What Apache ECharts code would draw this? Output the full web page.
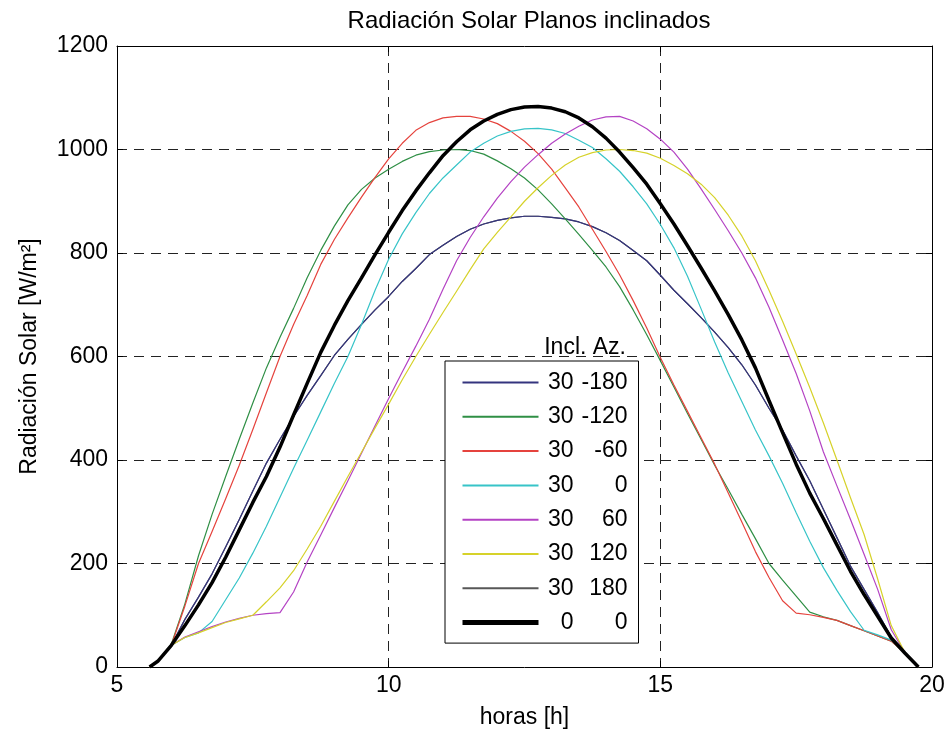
<!DOCTYPE html>
<html>
<head>
<meta charset="utf-8">
<script src="https://cdn.jsdelivr.net/npm/echarts@6/dist/echarts.min.js"></script>
<style>
  html, body { margin: 0; padding: 0; background: #fff; }
  #chart { width: 948px; height: 734px; }
</style>
</head>
<body>
<div id="chart"></div>
<script>
// hora del dia
const hours = [5.6, 5.75, 6, 6.25, 6.5, 6.75, 7, 7.25, 7.5, 7.75, 8, 8.25, 8.5, 8.75,
  9, 9.25, 9.5, 9.75, 10, 10.25, 10.5, 10.75, 11, 11.25, 11.5, 11.75, 12, 12.25, 12.5, 12.75,
  13, 13.25, 13.5, 13.75, 14, 14.25, 14.5, 14.75, 15, 15.25, 15.5, 15.75, 16, 16.25, 16.5, 16.75,
  17, 17.25, 17.5, 17.75, 18, 18.25, 18.5, 18.75, 19, 19.25, 19.5, 19.75];

// W/m2, inclinacion 30, azimut -180
const s30m180 = [0, 11, 42, 92, 135, 180, 232, 285, 340, 394, 440, 484, 525, 563,
  602, 633, 662, 690, 716, 745, 770, 797, 815, 832, 846, 856, 863, 868, 871, 871,
  869, 866, 860, 851, 839, 824, 805, 785, 757, 728, 702, 675, 647, 617, 584, 545,
  500, 458, 408, 360, 305, 250, 195, 150, 105, 58, 27, 0];
// azimut -120
const s30m120 = [0, 11, 44, 122, 215, 295, 368, 440, 510, 578, 637, 693, 752, 805,
  852, 893, 923, 945, 962, 977, 989, 996, 999, 1000, 998, 991, 978, 963, 945, 922,
  895, 866, 836, 805, 773, 735, 690, 642, 592, 541, 490, 440, 390, 343, 295, 248,
  200, 168, 137, 106, 97, 90, 80, 70, 60, 50, 27, 0];
// azimut -60
const s30m60 = [0, 11, 42, 118, 200, 262, 325, 390, 459, 530, 600, 662, 718, 778,
  826, 868, 908, 946, 982, 1012, 1037, 1052, 1061, 1064, 1064, 1059, 1050, 1035, 1016, 992,
  962, 926, 889, 846, 803, 758, 708, 655, 598, 545, 494, 443, 392, 336, 280, 223,
  173, 128, 104, 101, 96, 90, 80, 70, 60, 50, 27, 0];
// azimut 0
const s30_0 = [0, 11, 42, 57, 66, 88, 130, 172, 220, 272, 328, 384, 438, 493,
  548, 600, 662, 728, 788, 837, 878, 915, 945, 970, 995, 1012, 1026, 1035, 1040, 1041,
  1038, 1031, 1018, 1004, 982, 958, 928, 895, 855, 810, 755, 692, 628, 568, 513, 458,
  408, 355, 298, 243, 192, 148, 107, 71, 62, 52, 27, 0];
// azimut 60
const s30_60 = [0, 11, 42, 58, 68, 78, 87, 94, 100, 103, 105, 145, 203, 255,
  308, 360, 413, 466, 519, 570, 620, 672, 730, 785, 830, 870, 906, 938, 966, 990,
  1012, 1030, 1045, 1057, 1063, 1064, 1055, 1040, 1020, 995, 962, 924, 884, 843, 800, 752,
  695, 632, 567, 495, 416, 350, 285, 218, 150, 72, 28, 0];
// azimut 120
const s30_120 = [0, 11, 42, 57, 66, 76, 86, 93, 100, 126, 153, 186, 228, 272,
  320, 368, 415, 462, 508, 555, 600, 643, 685, 726, 768, 808, 840, 870, 900, 926,
  950, 970, 985, 994, 999, 1000, 998, 993, 983, 969, 953, 933, 907, 873, 833, 785,
  728, 668, 605, 540, 472, 400, 327, 256, 170, 80, 28, 0];
// azimut 180 (coincide con -180)
const s30_180 = [0, 11, 42, 92, 135, 180, 232, 285, 340, 394, 440, 484, 525, 563,
  602, 633, 662, 690, 716, 745, 770, 797, 815, 832, 846, 856, 863, 868, 871, 871,
  869, 866, 860, 851, 839, 824, 805, 785, 757, 728, 702, 675, 647, 617, 584, 545,
  500, 458, 408, 360, 305, 250, 195, 150, 105, 58, 27, 0];
// plano horizontal
const s0_0 = [0, 11, 42, 80, 120, 163, 212, 265, 318, 368, 425, 487, 548, 608,
  660, 708, 752, 797, 840, 882, 920, 955, 988, 1015, 1038, 1055, 1068, 1077, 1082, 1083,
  1080, 1073, 1061, 1044, 1022, 995, 965, 933, 895, 856, 814, 771, 727, 681, 632, 578,
  515, 453, 392, 336, 287, 236, 185, 140, 98, 56, 27, 0];

const names = ['30 -180', '30 -120', '30 -60', '30 0', '30 60', '30 120', '30 180', '0 0'];
const colors = ['#34347e', '#2f8f45', '#e5433d', '#37c4c8', '#b443c4', '#d6d22a', '#575757', '#000000'];
const curves = [s30m180, s30m120, s30m60, s30_0, s30_60, s30_120, s30_180, s0_0];

const FONT = '"Liberation Sans", Arial, sans-serif';

var chart = echarts.init(document.getElementById('chart'));

var series = curves.map(function (vals, i) {
  return {
    name: names[i],
    type: 'line',
    symbol: 'none',
    data: hours.map(function (h, k) { return [h, vals[k]]; }),
    lineStyle: { color: colors[i], width: i === 7 ? 3.5 : 1.2 },
    itemStyle: { color: colors[i] },
    z: i === 6 ? 1 : 2
  };
});

var legendData = names.map(function (n, i) {
  return i === 7 ? { name: n, lineStyle: { width: 5 } } : { name: n };
});

chart.setOption({
  animation: false,
  backgroundColor: '#fff',
  title: {
    text: 'Radiación Solar Planos inclinados',
    left: 524,
    top: 4,
    textAlign: 'center',
    textStyle: { fontFamily: FONT, fontSize: 24, fontWeight: 'normal', color: '#000' }
  },
  grid: { left: 117, right: 16, top: 46, bottom: 67 },
  legend: {
    data: legendData,
    orient: 'vertical',
    left: 445,
    top: 361,
    padding: [10, 11, 9, 15],
    itemWidth: 76,
    itemHeight: 20,
    itemGap: 11.3,
    borderColor: '#000',
    borderWidth: 1,
    backgroundColor: '#fff',
    selectedMode: false,
    itemStyle: { opacity: 0 },
    textStyle: {
      fontFamily: FONT, fontSize: 23, color: '#000', lineHeight: 20,
      rich: {
        a: { width: 30, align: 'right', fontFamily: FONT, fontSize: 23, lineHeight: 20, color: '#000' },
        b: { width: 54, align: 'right', fontFamily: FONT, fontSize: 23, lineHeight: 20, color: '#000' }
      }
    },
    formatter: function (name) {
      var p = name.split(' ');
      return '{a|' + p[0] + '}{b|' + p[1] + '}';
    }
  },
  graphic: [{
    type: 'text',
    right: 948 - 626,
    top: 336,
    style: { text: 'Incl. Az.', font: '23px ' + FONT, fill: '#000' }
  }],
  xAxis: [{
    type: 'value', min: 5, max: 20, interval: 5,
    name: 'horas [h]', nameLocation: 'middle', nameGap: 39,
    nameTextStyle: { fontFamily: FONT, fontSize: 23, color: '#000' },
    axisLine: { show: true, onZero: false, lineStyle: { color: '#000', width: 1 } },
    axisTick: { show: true, inside: true, length: 6, lineStyle: { color: '#000' } },
    axisLabel: { margin: 7, fontFamily: FONT, fontSize: 23, color: '#000' },
    splitLine: { show: true, lineStyle: { color: '#222', width: 1, type: [10, 7] } }
  }, {
    type: 'value', min: 5, max: 20, interval: 5, position: 'top',
    axisLine: { show: true, onZero: false, lineStyle: { color: '#000', width: 1 } },
    axisTick: { show: true, inside: true, length: 6, lineStyle: { color: '#000' } },
    axisLabel: { show: false },
    splitLine: { show: false }
  }],
  yAxis: [{
    type: 'value', min: 0, max: 1200, interval: 200,
    name: 'Radiación Solar [W/m²]', nameLocation: 'middle', nameGap: 76,
    nameTextStyle: { fontFamily: FONT, fontSize: 23, color: '#000' },
    axisLine: { show: true, onZero: false, lineStyle: { color: '#000', width: 1 } },
    axisTick: { show: true, inside: true, length: 6, lineStyle: { color: '#000' } },
    axisLabel: {
      margin: 9, fontFamily: FONT, fontSize: 23, color: '#000',
      formatter: function (v) { return String(v); }
    },
    splitLine: { show: true, lineStyle: { color: '#222', width: 1, type: [10, 7] } }
  }, {
    type: 'value', min: 0, max: 1200, interval: 200, position: 'right',
    axisLine: { show: true, onZero: false, lineStyle: { color: '#000', width: 1 } },
    axisTick: { show: true, inside: true, length: 6, lineStyle: { color: '#000' } },
    axisLabel: { show: false },
    splitLine: { show: false }
  }],
  series: series
});
</script>
</body>
</html>
